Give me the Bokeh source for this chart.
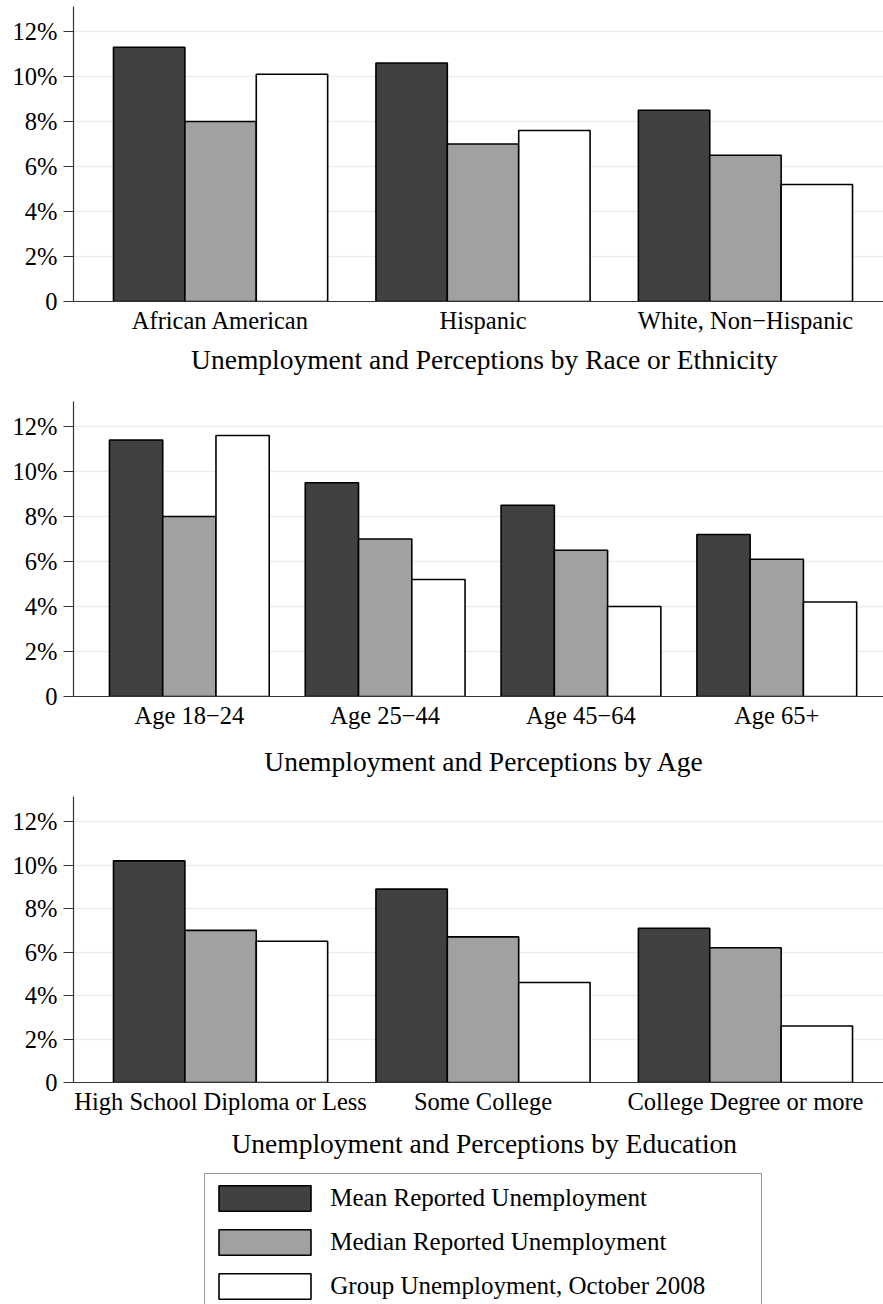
from bokeh.plotting import figure
from bokeh.models import FixedTicker, Legend, LegendItem, Title
from bokeh.layouts import column
from bokeh.embed import file_html
from bokeh.resources import INLINE

# ---------------- data ----------------
series_names = ["Mean Reported Unemployment",
                "Median Reported Unemployment",
                "Group Unemployment, October 2008"]
series_colors = ["#414141", "#a1a1a1", "#ffffff"]

race_categories = ["African American", "Hispanic", "White, Non\u2212Hispanic"]
race_mean = [11.3, 10.6, 8.5]
race_median = [8.0, 7.0, 6.5]
race_group = [10.1, 7.6, 5.2]

age_categories = ["Age 18\u221224", "Age 25\u221244", "Age 45\u221264", "Age 65+"]
age_mean = [11.4, 9.5, 8.5, 7.2]
age_median = [8.0, 7.0, 6.5, 6.1]
age_group = [11.6, 5.2, 4.0, 4.2]

edu_categories = ["High School Diploma or Less", "Some College", "College Degree or more"]
edu_mean = [10.2, 8.9, 7.1]
edu_median = [7.0, 6.7, 6.2]
edu_group = [6.5, 4.6, 2.6]

panel_titles = ["Unemployment and Perceptions by Race or Ethnicity",
                "Unemployment and Perceptions by Age",
                "Unemployment and Perceptions by Education"]

y_ticks = [0, 2, 4, 6, 8, 10, 12]
y_tick_labels = ["0", "2%", "4%", "6%", "8%", "10%", "12%"]

FONT = "Liberation Serif"
WIDTH = 883
LEFT = 73
BAR_FRAC = 0.272


def make_panel(categories, series, title, height, top_border, frame_h, y_end,
               x_start, x_end, title_offset, title_standoff):
    p = figure(width=WIDTH, height=height,
               x_range=(x_start, x_end), y_range=(0, y_end),
               output_backend="svg", toolbar_location=None,
               min_border_left=LEFT, min_border_right=0,
               min_border_top=top_border,
               min_border_bottom=height - frame_h - top_border)
    p.outline_line_color = None
    p.background_fill_color = "white"
    p.border_fill_color = "white"
    n = len(categories)
    bw = BAR_FRAC
    for j, vals in enumerate(series):
        xs = [i + (j - 1) * bw for i in range(n)]
        p.vbar(x=xs, top=vals, bottom=0, width=bw,
               fill_color=series_colors[j], line_color="black", line_width=1.6)

    p.xgrid.visible = False
    p.ygrid.ticker = FixedTicker(ticks=y_ticks)
    p.ygrid.grid_line_color = "#e6eef1"
    p.ygrid.grid_line_width = 1.6

    xa = p.xaxis[0]
    xa.ticker = FixedTicker(ticks=list(range(n)))
    xa.major_label_overrides = {i: c for i, c in enumerate(categories)}
    xa.major_tick_out = 0
    xa.major_tick_in = 0
    xa.minor_tick_out = 0
    xa.minor_tick_in = 0
    xa.axis_line_color = "#333333"
    xa.axis_line_width = 1.2
    xa.major_label_standoff = 5
    xa.major_label_text_font = FONT
    xa.major_label_text_font_size = "24.5px"
    xa.major_label_text_color = "black"

    ya = p.yaxis[0]
    ya.ticker = FixedTicker(ticks=y_ticks)
    ya.major_label_overrides = {t: l for t, l in zip(y_ticks, y_tick_labels)}
    ya.major_tick_out = 10
    ya.major_tick_in = 0
    ya.minor_tick_out = 0
    ya.minor_tick_in = 0
    ya.axis_line_color = "#333333"
    ya.major_tick_line_color = "#333333"
    ya.axis_line_width = 1.2
    ya.major_tick_line_width = 1.2
    ya.major_label_standoff = 6
    ya.major_label_text_font = FONT
    ya.major_label_text_font_size = "24.5px"
    ya.major_label_text_color = "black"

    t = Title(text=title, align="left", offset=title_offset,
              text_font=FONT, text_font_size="27.5px",
              text_font_style="normal", text_color="black",
              standoff=title_standoff)
    p.add_layout(t, "below")
    return p


p1 = make_panel(race_categories, [race_mean, race_median, race_group],
                panel_titles[0], 401, 6, 295, 13.11, -0.5604, 2.526, 117.6, 11)
p2 = make_panel(age_categories, [age_mean, age_median, age_group],
                panel_titles[1], 395, 0, 295, 13.11, -0.5916, 3.545, 190.8, 24)
p3 = make_panel(edu_categories, [edu_mean, edu_median, edu_group],
                panel_titles[2], 370, 0, 286, 13.16, -0.5604, 2.526, 158.0, 16)

# ---------------- legend ----------------
LEG_H = 138
pl = figure(width=WIDTH, height=LEG_H, x_range=(0, 1), y_range=(0, 1),
            output_backend="svg", toolbar_location=None,
            x_axis_location=None, y_axis_location=None,
            min_border_left=LEFT, min_border_right=0,
            min_border_top=0, min_border_bottom=0)
pl.outline_line_color = None
pl.grid.visible = False
items = []
for name, col in zip(series_names, series_colors):
    # legend-only renderers: a single undefined (NaN) row, so nothing is drawn in the frame
    r = pl.vbar(x=[float("nan")], top=[float("nan")], width=0.1, fill_color=col,
                line_color="black", line_width=1.6)
    items.append(LegendItem(label=name, renderers=[r]))
legend = Legend(items=items, location=(131.3, -7), orientation="vertical",
                glyph_width=115, glyph_height=32, label_standoff=8,
                label_width=429, label_height=44, padding=2, spacing=0, margin=0,
                label_text_font=FONT, label_text_font_size="25px",
                label_text_color="black",
                border_line_color="#333333", border_line_width=1.5,
                background_fill_color="white", background_fill_alpha=1.0)
pl.add_layout(legend, "center")

layout = column(p1, p2, p3, pl, spacing=0)
open("out.html", "w").write(file_html(layout, INLINE))
